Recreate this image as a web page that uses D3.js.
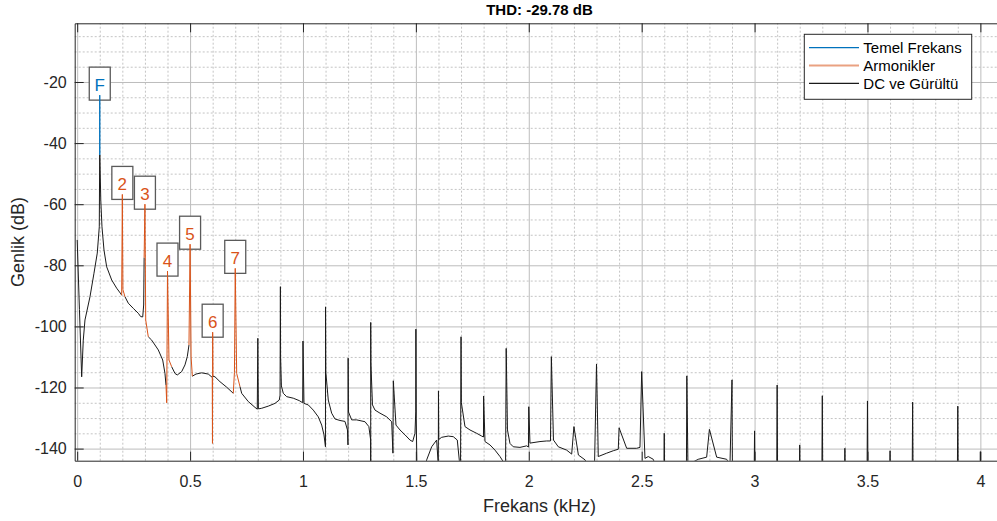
<!DOCTYPE html>
<html>
<head>
<meta charset="utf-8">
<title>THD</title>
<script src="https://cdn.jsdelivr.net/npm/d3@7"></script>
<style>
    body { margin: 0; background: #fff; }
    #thd-chart { width: 997px; height: 521px; overflow: hidden; }
    text { font-family: "Liberation Sans", Arial, Helvetica, sans-serif; }
</style>
</head>
<body>
<div id="thd-chart"></div>
<script>

/* * * * * * * * * * * * * *
*          data            *
* * * * * * * * * * * * * */

const titleText = 'THD: -29.78 dB';

// axis limits and ticks (kHz / dB)
const xLimits = [-0.011, 4.106];
const yLimits = [-143.96, -0.79];
const xTicks = [0, 0.5, 1, 1.5, 2, 2.5, 3, 3.5, 4];
const yTicks = [-140, -120, -100, -80, -60, -40, -20];

// fundamental (blue)
const fundFreq = [0.0996, 0.1, 0.1004];
const fundDb = [-43.9, -24.3, -43.9];

// harmonics 2..7 (orange), one small segment each
const harmNames = ['2', '3', '4', '5', '6', '7'];
const harmFreq = [
    [0.197, 0.2, 0.2025, 0.2117],
    [0.2965, 0.3, 0.3035, 0.3149],
    [0.3933, 0.3965, 0.4, 0.4066, 0.4185],
    [0.4951, 0.5, 0.5045, 0.51],
    [0.5983, 0.5992, 0.6, 0.6012],
    [0.6913, 0.6965, 0.7, 0.7064, 0.721]
];
const harmDb = [
    [-89.8, -56.8, -88.0, -90.3],
    [-77.5, -60.0, -97.9, -103.4],
    [-119.2, -125.0, -81.9, -111.0, -113.2],
    [-106.1, -73.1, -110.0, -116.3],
    [-116.7, -138.3, -101.9, -116.3],
    [-121.9, -115.0, -81.0, -115.4, -119.7]
];

// DC and noise (black), null = gap where a coloured bin sits
const noiseFreq = [
    0, 0.010, 0.0199, 0.027, 0.0345, 0.0567, 0.0744, 0.089, 0.0979, 0.0996, null,
    0.1004, 0.1045, 0.1098, 0.1187, 0.1306, 0.1528, 0.1749, 0.194, 0.197, null,
    0.2117, 0.2263, 0.2485, 0.2706, 0.2812, 0.2902, 0.2945, 0.2965, null,
    0.3149, 0.33, 0.3592, 0.3787, 0.3888, 0.3933, null,
    0.4185, 0.4331, 0.4433, 0.4628, 0.4774, 0.4876, 0.4951, null,
    0.51, 0.5261, 0.5514, 0.5806, 0.5983, null,
    0.6012, 0.6103, 0.6324, 0.6621, 0.6913, null,
    0.721, 0.7285, 0.7577, 0.7874, 0.7976, 0.8, 0.8025, 0.8171, 0.8463, 0.876, 0.895,
    0.8985, 0.9, 0.9008, 0.9045, 0.9128, 0.9278, 0.957, 0.9836, 0.9987, 1.0, 1.0044,
    1.0235, 1.0456, 1.0677, 1.0828, 1.093, 1.0996, 1.1, 1.1012, 1.112, 1.127, 1.1417,
    1.1639, 1.186, 1.197, 1.1993, 1.2, 1.2015, 1.2157, 1.2378, 1.2746, 1.2918, 1.2997,
    1.2999, 1.3, 1.3008, 1.3078, 1.319, 1.341, 1.3707, 1.3928, 1.3984, 1.4, 1.4119,
    1.4296, 1.4518, 1.4739, 1.4858, 1.496, 1.4995, 1.5, 1.5015, 1.5049, 1.527, 1.5478,
    1.57, 1.592, 1.5993, 1.6, 1.6015, 1.6143, 1.6435, 1.6657, 1.6834, 1.6922, 1.6975,
    1.7, 1.7015, 1.7175, 1.7396, 1.7693, 1.7914, 1.7994, 1.8, 1.8061, 1.8282, 1.8504,
    1.8725, 1.8871, 1.8968, 1.9, 1.9057, 1.9167, 1.9313, 1.961, 1.9907, 1.9985, 2.0,
    2.0053, 2.0496, 2.0793, 2.0961, 2.1, 2.1094, 2.1307, 2.1678, 2.19, 2.2, 2.2198,
    2.2494, 2.2716, 2.29, 2.3, 2.3078, 2.345, 2.3742, 2.3964, 2.4, 2.4336, 2.4779,
    2.4925, 2.5, 2.5146, 2.5292, 2.5513, 2.5677, 2.598, 2.6, 2.602, 2.698, 2.7, 2.705,
    2.727, 2.7506, 2.7878, 2.8, 2.8321, 2.8764, 2.891, 2.9, 2.902,
    2.998, 3.0, 3.002, 3.098, 3.1, 3.102, 3.198, 3.2, 3.202, 3.298, 3.3, 3.302,
    3.398, 3.4, 3.402, 3.498, 3.5, 3.502, 3.598, 3.6, 3.602, 3.698, 3.7, 3.702,
    3.898, 3.9, 3.902, 3.998, 4.0, 4.002, 4.106
];
const noiseDb = [
    -71.7, -94.5, -116.5, -104.5, -97.9, -90.3, -82.6, -76.0, -67.4, -43.9, null,
    -43.9, -58.6, -67.4, -75.0, -80.5, -84.8, -87.5, -89.4, -89.8, null,
    -90.3, -92.4, -94.1, -95.7, -96.8, -96.9, -93.0, -77.5, null,
    -103.4, -104.5, -107.7, -111.0, -115.4, -119.2, null,
    -113.2, -115.4, -115.9, -114.8, -112.6, -109.9, -106.1, null,
    -116.3, -115.6, -115.2, -115.6, -116.7, null,
    -116.3, -116.5, -118.1, -119.9, -121.9, null,
    -119.7, -121.9, -124.6, -126.5, -127.1, -103.9, -127.0, -126.8, -126.1, -125.2, -124.1,
    -122.5, -87.0, -110.0, -119.5, -121.9, -123.0, -123.5, -124.3, -125.0, -104.8, -125.2,
    -125.7, -127.4, -129.6, -132.3, -135.5, -139.4, -93.6, -115.0, -124.1, -128.4, -130.3,
    -130.8, -131.1, -133.9, -138.8, -110.4, -128.0, -130.6, -130.6, -131.2, -132.8, -137.2,
    -150, -98.7, -112.0, -125.7, -127.4, -128.4, -129.6, -131.2, -141.5, -117.8, -132.3,
    -133.9, -135.5, -137.2, -137.7, -135.0, -128.0, -100.9, -130.0, -147, -150, -143.7,
    -139.4, -137.2, -145.4, -121.1, -137.0, -136.3, -135.9, -136.1, -137.2, -143.7, -150,
    -103.4, -125.0, -132.8, -133.9, -135.0, -135.9, -136.2, -122.8, -137.7, -138.8, -140.5,
    -142.6, -144.3, -150, -107.2, -133.9, -138.3, -139.4, -139.6, -139.1, -139.5, -126.3,
    -138.2, -137.7, -137.5, -137.5, -109.9, -137.2, -139.4, -140.5, -141.8, -132.8, -142.1,
    -143.7, -147, -150, -112.3, -142.6, -141.5, -140.7, -140.2, -133.2, -139.9, -139.9,
    -139.6, -114.8, -143.2, -142.6, -143.5, -147, -150, -135.0, -150, -150, -116.2, -146,
    -144.4, -143.5, -142.8, -133.7, -142.8, -143.5, -145.4, -117.5, -150,
    -150, -134.2, -150, -150, -119.2, -150, -150, -138.8, -150, -150, -122.7, -150,
    -150, -139.9, -150, -150, -124.4, -150, -150, -140.7, -150, -150, -124.8, -150,
    -150, -126.1, -150, -150, -141.0, -150, -150
];

const legendNames = ['Temel Frekans', 'Armonikler', 'DC ve Gürültü'];


/* * * * * * * * * * * * * *
*         ThdChart         *
* * * * * * * * * * * * * */

class ThdChart {

    constructor(parentElement) {
        this.parentElement = parentElement;
        this.colors = {fund: '#0072BD', harm: '#D95319', noise: '#1a1a1a', axis: '#262626'};

        this.initVis();
    }

    initVis() {
        let vis = this;

        // margin conventions (the axes run a little past the right edge of the window)
        vis.margin = {top: 23.3, left: 74.7};
        vis.width = 929.6;
        vis.height = 437.4;

        vis.svg = d3.select('#' + vis.parentElement).append('svg')
            .attr('width', 997)
            .attr('height', 521)
            .append('g')
            .attr('transform', `translate(${vis.margin.left},${vis.margin.top})`);

        vis.x = d3.scaleLinear().domain(xLimits).range([0, vis.width]);
        vis.y = d3.scaleLinear().domain(yLimits).range([vis.height, 0]);

        // minor grid (dotted)
        let xMinor = d3.range(0, 41).map(d => d / 10).filter(d => !xTicks.includes(d));
        let yMinor = d3.range(-140, 0, 5).filter(d => !yTicks.includes(d));

        vis.svg.append('g')
            .attr('class', 'grid minor')
            .attr('transform', `translate(0,${vis.height})`)
            .call(d3.axisBottom(vis.x).tickValues(xMinor).tickSize(-vis.height).tickFormat(''));
        vis.svg.append('g')
            .attr('class', 'grid minor')
            .call(d3.axisLeft(vis.y).tickValues(yMinor).tickSize(-vis.width).tickFormat(''));

        // major grid
        vis.svg.append('g')
            .attr('class', 'grid major')
            .attr('transform', `translate(0,${vis.height})`)
            .call(d3.axisBottom(vis.x).tickValues(xTicks).tickSize(-vis.height).tickFormat(''));
        vis.svg.append('g')
            .attr('class', 'grid major')
            .call(d3.axisLeft(vis.y).tickValues(yTicks).tickSize(-vis.width).tickFormat(''));

        vis.svg.selectAll('.grid .domain').remove();
        vis.svg.selectAll('.grid.minor line')
            .attr('stroke', '#c4c4c4')
            .attr('stroke-dasharray', '2,2');
        vis.svg.selectAll('.grid.major line')
            .attr('stroke', '#bdbdbd');

        // clip for the traces
        vis.svg.append('clipPath')
            .attr('id', 'plot-clip')
            .append('rect')
            .attr('width', vis.width)
            .attr('height', vis.height);

        vis.labelGroup = vis.svg.append('g').attr('class', 'peak-labels');
        vis.traceGroup = vis.svg.append('g').attr('clip-path', 'url(#plot-clip)');
        vis.labelTextGroup = vis.svg.append('g');

        // axes with inward ticks, plain hyphen for negatives like the original
        vis.xAxis = vis.svg.append('g')
            .attr('class', 'axis x-axis')
            .attr('transform', `translate(0,${vis.height})`)
            .call(d3.axisBottom(vis.x).tickValues(xTicks).tickSizeInner(-9).tickSizeOuter(0)
                .tickPadding(15.4).tickFormat(d => String(d)));
        vis.yAxis = vis.svg.append('g')
            .attr('class', 'axis y-axis')
            .call(d3.axisLeft(vis.y).tickValues(yTicks).tickSizeInner(-9).tickSizeOuter(0)
                .tickPadding(8).tickFormat(d => String(d)));
        vis.topAxis = vis.svg.append('g')
            .attr('class', 'axis top-axis')
            .call(d3.axisTop(vis.x).tickValues(xTicks).tickSizeInner(-9).tickSizeOuter(0).tickFormat(''));

        vis.svg.selectAll('.axis .domain').attr('stroke', vis.colors.axis);
        vis.svg.selectAll('.axis line').attr('stroke', vis.colors.axis);
        vis.svg.selectAll('.axis text')
            .attr('font-size', 16)
            .attr('font-family', '"Liberation Sans", Arial, sans-serif')
            .attr('fill', vis.colors.axis);
        vis.xAxis.selectAll('text').attr('dy', null).attr('y', 15.4 + 11.4);

        // title and axis labels
        vis.svg.append('text')
            .attr('x', vis.width / 2)
            .attr('y', -8.3)
            .attr('text-anchor', 'middle')
            .attr('font-size', 15)
            .attr('font-weight', 'bold')
            .attr('fill', '#000')
            .text(titleText);

        vis.svg.append('text')
            .attr('x', vis.width / 2)
            .attr('y', vis.height + 51)
            .attr('text-anchor', 'middle')
            .attr('font-size', 18)
            .attr('fill', vis.colors.axis)
            .text('Frekans (kHz)');

        vis.svg.append('text')
            .attr('transform', `translate(${-51},${vis.height / 2}) rotate(-90)`)
            .attr('text-anchor', 'middle')
            .attr('font-size', 18)
            .attr('fill', vis.colors.axis)
            .text('Genlik (dB)');

        // legend
        vis.legend = vis.svg.append('g')
            .attr('class', 'legend')
            .attr('transform', `translate(${804.3 - vis.margin.left},${34.3 - vis.margin.top})`);

        vis.legend.append('rect')
            .attr('width', 167.4)
            .attr('height', 65)
            .attr('fill', '#fff')
            .attr('stroke', vis.colors.axis);

        let legendColors = [vis.colors.fund, vis.colors.harm, vis.colors.noise];
        legendNames.forEach((name, i) => {
            let ly = 13.4 + i * 17.8;
            vis.legend.append('line')
                .attr('x1', 4.7).attr('x2', 54.7)
                .attr('y1', ly).attr('y2', ly)
                .attr('stroke', legendColors[i])
                .attr('stroke-width', i === 1 ? 2 : 1.2)
                .attr('stroke-opacity', i === 1 ? 0.55 : 1);
            vis.legend.append('text')
                .attr('x', 59)
                .attr('y', ly + 5.3)
                .attr('font-size', 15)
                .attr('fill', '#000')
                .text(name);
        });

        this.wrangleData();
    }

    wrangleData() {
        let vis = this;

        vis.noise = noiseFreq.map((f, i) => ({f: f, db: noiseDb[i]}));
        vis.fund = fundFreq.map((f, i) => ({f: f, db: fundDb[i]}));
        vis.harms = harmFreq.map((fs, h) => fs.map((f, i) => ({f: f, db: harmDb[h][i]})));

        // peak labels sit on the highest bin of each group
        vis.peaks = [{name: 'F', color: vis.colors.fund, pt: vis.fund[d3.maxIndex(vis.fund, d => d.db)]}];
        vis.harms.forEach((seg, h) => {
            vis.peaks.push({name: harmNames[h], color: vis.colors.harm, pt: seg[d3.maxIndex(seg, d => d.db)]});
        });

        vis.updateVis();
    }

    updateVis() {
        let vis = this;

        let line = d3.line()
            .defined(d => d.f !== null && d.db !== null)
            .x(d => vis.x(d.f))
            .y(d => vis.y(d.db));

        // label boxes go under the traces, the text on top
        vis.labelGroup.selectAll('rect')
            .data(vis.peaks)
            .enter()
            .append('rect')
            .attr('x', d => vis.x(d.pt.f) - 10.5)
            .attr('y', d => vis.y(d.pt.db) - 28)
            .attr('width', 21)
            .attr('height', 33)
            .attr('fill', '#fff')
            .attr('stroke', '#5a5a5a')
            .attr('stroke-width', 1.3);

        vis.traceGroup.append('path')
            .datum(vis.noise)
            .attr('d', line)
            .attr('fill', 'none')
            .attr('stroke', vis.colors.noise)
            .attr('stroke-width', 1);

        vis.traceGroup.selectAll('.harm')
            .data(vis.harms)
            .enter()
            .append('path')
            .attr('class', 'harm')
            .attr('d', line)
            .attr('fill', 'none')
            .attr('stroke', vis.colors.harm)
            .attr('stroke-width', 1);

        vis.traceGroup.append('path')
            .datum(vis.fund)
            .attr('d', line)
            .attr('fill', 'none')
            .attr('stroke', vis.colors.fund)
            .attr('stroke-width', 1);

        vis.labelTextGroup.selectAll('text')
            .data(vis.peaks)
            .enter()
            .append('text')
            .attr('x', d => vis.x(d.pt.f))
            .attr('y', d => vis.y(d.pt.db) - 4)
            .attr('text-anchor', 'middle')
            .attr('font-size', 17)
            .attr('fill', d => d.color)
            .text(d => d.name);
    }
}

new ThdChart('thd-chart');

</script>
</body>
</html>
